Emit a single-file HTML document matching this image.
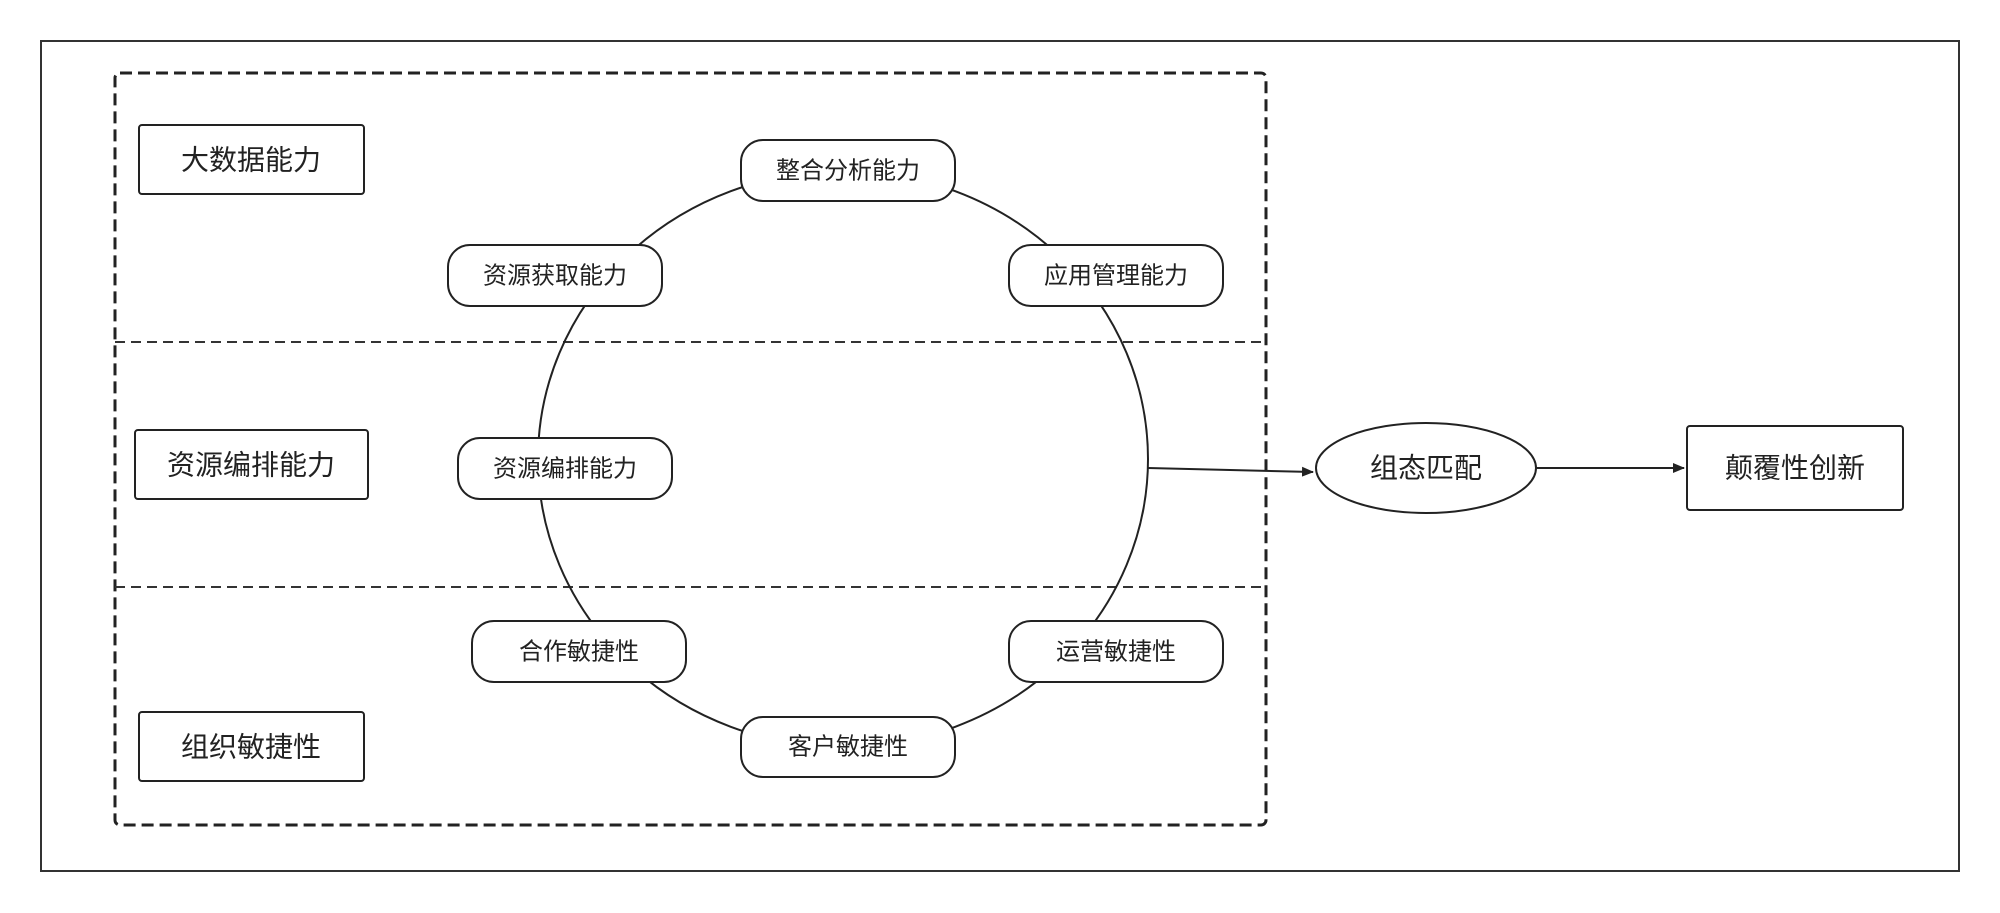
<!DOCTYPE html>
<html><head><meta charset="utf-8"><style>
html,body{margin:0;padding:0;background:#fff;}
svg{display:block;}
text{font-family:"Liberation Sans","Noto Sans CJK SC",sans-serif;font-size:24px;fill:#222;text-anchor:middle;dominant-baseline:central;}
</style></head><body>
<svg width="2000" height="913" viewBox="0 0 2000 913" xmlns="http://www.w3.org/2000/svg">
<defs><marker id="ar" markerWidth="12" markerHeight="10" refX="11" refY="5" orient="auto" markerUnits="userSpaceOnUse"><path d="M0,0 L12,5 L0,10 Z" fill="#222"/></marker></defs>
<rect x="0" y="0" width="2000" height="913" fill="#fff"/>
<rect x="41" y="41" width="1918" height="830" fill="none" stroke="#333" stroke-width="2"/>
<rect x="115" y="73" width="1151" height="752" rx="5" fill="none" stroke="#222" stroke-width="3" stroke-dasharray="12,6"/>
<line x1="115" y1="342" x2="1266" y2="342" stroke="#333" stroke-width="2" stroke-dasharray="10,6"/>
<line x1="115" y1="587" x2="1266" y2="587" stroke="#333" stroke-width="2" stroke-dasharray="10,6"/>
<ellipse cx="843" cy="459" rx="305" ry="288" fill="none" stroke="#222" stroke-width="2"/>
<g stroke="#222" stroke-width="2" fill="#fff">
<rect x="741" y="140" width="214" height="61" rx="22"/>
<rect x="448" y="245" width="214" height="61" rx="22"/>
<rect x="1009" y="245" width="214" height="61" rx="22"/>
<rect x="458" y="438" width="214" height="61" rx="22"/>
<rect x="472" y="621" width="214" height="61" rx="22"/>
<rect x="1009" y="621" width="214" height="61" rx="22"/>
<rect x="741" y="717" width="214" height="60" rx="22"/>
<rect x="139" y="125" width="225" height="69" rx="3"/>
<rect x="135" y="430" width="233" height="69" rx="3"/>
<rect x="139" y="712" width="225" height="69" rx="3"/>
<ellipse cx="1426" cy="468" rx="110" ry="45"/>
<rect x="1687" y="426" width="216" height="84" rx="3"/>
</g>
<line x1="1148" y1="468" x2="1313" y2="472" stroke="#222" stroke-width="2" marker-end="url(#ar)"/>
<line x1="1536" y1="468" x2="1684" y2="468" stroke="#222" stroke-width="2" marker-end="url(#ar)"/>
<text x="848" y="171">整合分析能力</text>
<text x="555" y="276">资源获取能力</text>
<text x="1116" y="276">应用管理能力</text>
<text x="565" y="469">资源编排能力</text>
<text x="579" y="652">合作敏捷性</text>
<text x="1116" y="652">运营敏捷性</text>
<text x="848" y="747">客户敏捷性</text>
<text x="251" y="160" style="font-size:28px">大数据能力</text>
<text x="251" y="465" style="font-size:28px">资源编排能力</text>
<text x="251" y="747" style="font-size:28px">组织敏捷性</text>
<text x="1426" y="468" style="font-size:28px">组态匹配</text>
<text x="1795" y="468" style="font-size:28px">颠覆性创新</text>
</svg>
</body></html>
